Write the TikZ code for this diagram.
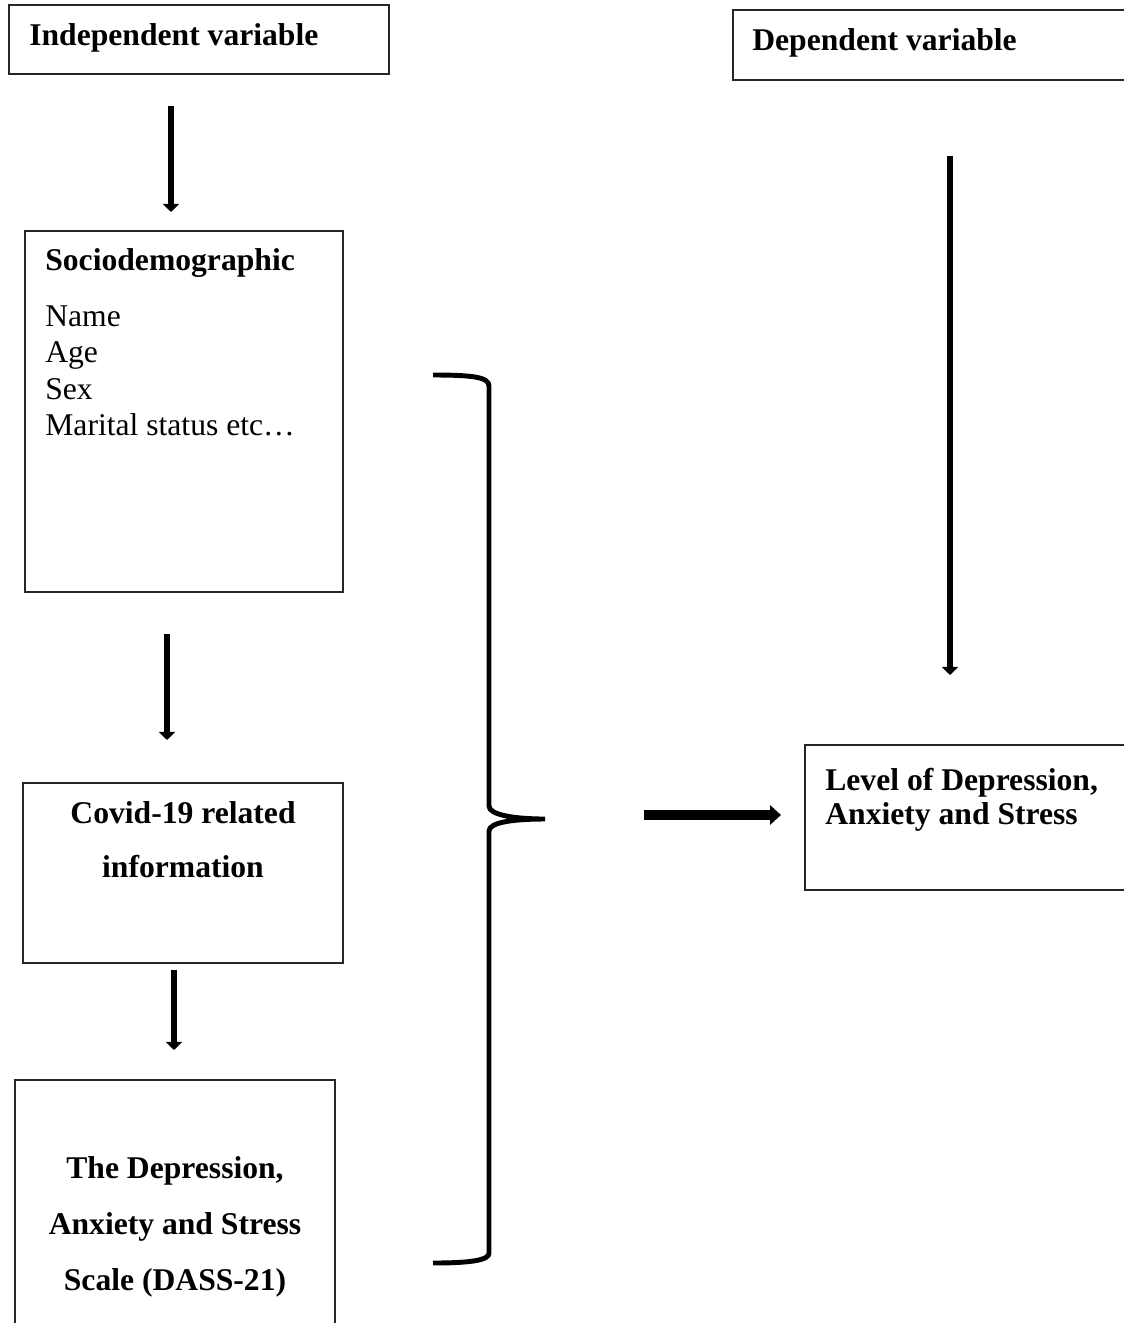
\documentclass[tikz,border=0pt]{standalone}
\usepackage{fontspec}
\setmainfont{Liberation Serif}
\usetikzlibrary{arrows.meta,fit}

\begin{document}
\begin{tikzpicture}[x=.02cm,y=-.02cm,line cap=butt,
  box/.style={draw=black!85,line width=.7pt,inner sep=0pt},
  head/.style={font=\fontsize{18}{21.6}\selectfont\bfseries,inner sep=0pt},
  item/.style={font=\fontsize{18}{21.6}\selectfont,inner sep=0pt},
  down/.style={line width=3.4pt,-{Triangle[width=9pt,length=4.6pt]}},
  lead/.style={line width=5.5pt,-{Triangle[width=10.8pt,length=6.2pt]}},
  brace/.style={line width=2.8pt}]
  \useasboundingbox (0,0) rectangle (1124,1323);
  \clip (0,0) rectangle (1124,1323);

  % left column
  \node[box,fit={(9,5) (389,74)}] (indep) {};
  \node[head,anchor=base west] (indepT) at (29,45) {Independent variable};

  \node[box,fit={(25,231) (343,592)}] (socio) {};
  \node[head,anchor=base west] (socioT) at (45,270) {Sociodemographic};
  \foreach \t [count=\i] in {Name,Age,Sex,Marital status etc…}
    \node[item,anchor=base west] (socio\i) at (45,326+36.5*\i-36.5) {\t};

  \node[box,fit={(23,783) (343,963)}] (covid) {};
  \node[head,anchor=base] (covid1) at (183,823) {Covid-19 related};
  \node[head,anchor=base] (covid2) at (183,877) {information};

  \node[box,fit={(15,1080) (335,1340)}] (dass) {};
  \node[head,anchor=base] (dass1) at (175,1178) {The Depression,};
  \node[head,anchor=base] (dass2) at (175,1234) {Anxiety and Stress};
  \node[head,anchor=base] (dass3) at (175,1290) {Scale (DASS-21)};

  % right column
  \node[box,fit={(733,10) (1140,80)}] (dep) {};
  \node[head,anchor=base west] (depT) at (752,50) {Dependent variable};

  \node[box,fit={(805,745) (1140,890)}] (level) {};
  \node[head,anchor=base west] (level1) at (825,790) {Level of Depression,};
  \node[head,anchor=base west] (level2) at (825,824) {Anxiety and Stress};

  % arrow ends
  \coordinate (a1s) at (171,106); \coordinate (a1e) at (171,212);
  \coordinate (a2s) at (167,634); \coordinate (a2e) at (167,740);
  \coordinate (a3s) at (174,970); \coordinate (a3e) at (174,1050);
  \coordinate (a4s) at (950,156); \coordinate (a4e) at (950,675);
  \coordinate (a5s) at (644,815); \coordinate (a5e) at (781,815);

  \draw[down] (a1s) -- (a1e);
  \draw[down] (a2s) -- (a2e);
  \draw[down] (a3s) -- (a3e);
  \draw[down] (a4s) -- (a4e);
  \draw[lead] (a5s) -- (a5e);

  % brace
  \draw[brace] (433,375) .. controls (472,375) and (489,377) .. (489,386)
    -- (489,806) .. controls (489,815) and (515,819) .. (545,819)
    .. controls (515,819) and (489,822) .. (489,831)
    -- (489,1253) .. controls (489,1260) and (472,1263) .. (433,1263);
\end{tikzpicture}
\end{document}
